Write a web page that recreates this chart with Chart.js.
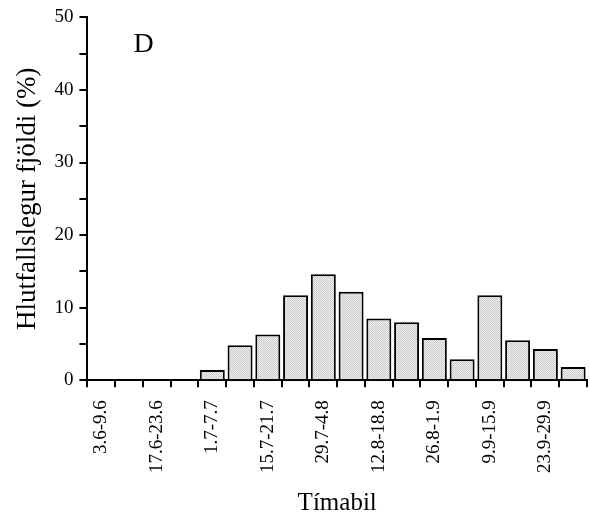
<!DOCTYPE html>
<html>
<head>
<meta charset="utf-8">
<script src="https://cdn.jsdelivr.net/npm/chart.js@4"></script>
<style>
  html, body { margin: 0; padding: 0; background: #fff; }
  #wrap { width: 590px; height: 518px; position: relative; }
</style>
</head>
<body>
<div id="wrap"><canvas id="histChart"></canvas></div>
<script>
// Time periods (every other one labelled on the axis)
const periods = ['3.6-9.6', '10.6-16.6', '17.6-23.6', '24.6-30.6', '1.7-7.7', '8.7-14.7',
    '15.7-21.7', '22.7-28.7', '29.7-4.8', '5.8-11.8', '12.8-18.8', '19.8-25.8',
    '26.8-1.9', '2.9-8.9', '9.9-15.9', '16.9-22.9', '23.9-29.9', '30.9-6.10'];
const percent = [0, 0, 0, 0, 1.4, 4.8, 6.3, 11.7, 14.6, 12.2, 8.5, 8.0, 5.8, 2.9, 11.7, 5.5, 4.3, 1.8];
const yTicks = [0, 10, 20, 30, 40, 50];

const serif = '"Liberation Serif", "Times New Roman", serif';

// light stippled fill like the original
function stipple() {
    const c = document.createElement('canvas');
    c.width = 2; c.height = 2;
    const g = c.getContext('2d');
    g.fillStyle = '#f0f0f0';
    g.fillRect(0, 0, 2, 2);
    g.fillStyle = '#cacaca';
    g.fillRect(0, 0, 1, 1);
    g.fillRect(1, 1, 1, 1);
    return g.createPattern(c, 'repeat');
}

const panelLetter = {
    id: 'panelLetter',
    afterDraw(chart) {
        const { ctx, chartArea } = chart;
        ctx.save();
        ctx.font = '28px ' + serif;
        ctx.fillStyle = '#000';
        ctx.textBaseline = 'middle';
        ctx.fillText('D', chartArea.left + 46, chartArea.top + 27);
        ctx.restore();
    }
};

new Chart(document.getElementById('histChart'), {
    type: 'bar',
    data: {
        labels: periods,
        datasets: [{
            data: percent,
            backgroundColor: stipple(),
            borderColor: '#000',
            borderWidth: 2,
            barPercentage: 0.9,
            categoryPercentage: 1.0
        }]
    },
    options: {
        responsive: true,
        maintainAspectRatio: false,
        animation: false,
        layout: { padding: { top: 17, right: 3, left: 8, bottom: 0 } },
        plugins: {
            legend: { display: false },
            tooltip: { enabled: false }
        },
        scales: {
            x: {
                border: { color: '#000', width: 2 },
                grid: { drawOnChartArea: false, color: '#000', lineWidth: 2, tickLength: 7, offset: true },
                ticks: {
                    autoSkip: false,
                    minRotation: 90,
                    maxRotation: 90,
                    color: '#000',
                    padding: 13,
                    font: { family: serif, size: 19 },
                    callback: (v, i) => i % 2 === 0 ? periods[i] : ''
                },
                title: { display: true, text: 'Tímabil', color: '#000', font: { family: serif, size: 25 }, padding: { top: 2, bottom: 0 } },
                afterFit: scale => { scale.paddingRight = 0; }
            },
            y: {
                min: 0,
                max: 50,
                border: { color: '#000', width: 2 },
                grid: { drawOnChartArea: false, color: '#000', lineWidth: 2, tickLength: 8 },
                ticks: {
                    stepSize: 5,
                    color: '#000',
                    padding: 6,
                    font: { family: serif, size: 19 },
                    callback: v => yTicks.includes(v) ? v : ''
                },
                title: { display: true, text: 'Hlutfallslegur fjöldi (%)', color: '#000', font: { family: serif, size: 27 }, padding: { bottom: 4 } }
            }
        }
    },
    plugins: [panelLetter]
});
</script>
</body>
</html>
